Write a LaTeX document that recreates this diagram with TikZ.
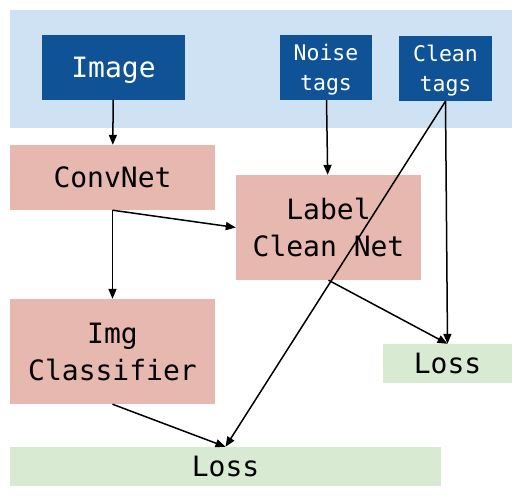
\documentclass[tikz,border=0pt]{standalone}
\usepackage{fontspec}
\setmonofont{DejaVu Sans Mono}
\usetikzlibrary{arrows.meta}
\definecolor{inbg}{HTML}{CFE2F3}
\definecolor{inbox}{HTML}{0F5396}
\definecolor{netbox}{HTML}{E6B8AF}
\definecolor{lossbox}{HTML}{D9EAD3}

\begin{document}
\begin{tikzpicture}[x=1pt, y=-1pt,
  input/.style={fill=inbox, text=white, font=\ttfamily\fontsize{21.5}{30}\selectfont, align=center, inner sep=0pt, text depth=0pt},
  net/.style={fill=netbox, font=\ttfamily\fontsize{28}{37}\selectfont, align=center, inner sep=0pt},
  loss/.style={fill=lossbox, font=\ttfamily\fontsize{28}{37}\selectfont, inner sep=0pt},
  flow/.style={-{Triangle[length=10pt, width=8pt]}, line width=1.5pt}]
\useasboundingbox (0,0) rectangle (529,496);
\fill[inbg] (10,10) rectangle (512,128);

\node[input, minimum width=143pt, minimum height=65pt, font=\ttfamily\fontsize{28}{37}\selectfont] (image) at (113.5,67.5) {Image};
\node[input, minimum width=92pt, minimum height=65pt] (noise) at (326,67.5) {Noise\\tags};
\node[input, minimum width=93pt, minimum height=65pt] (clean) at (445.5,68.5) {Clean\\tags};

\node[net, minimum width=205pt, minimum height=65pt] (convnet) at (112.5,177.5) {ConvNet};
\node[net, minimum width=185pt, minimum height=105pt] (cleannet) at (328.5,227.5) {Label\\Clean Net};
\node[net, minimum width=205pt, minimum height=105pt] (classifier) at (112.5,351.5) {Img\\Classifier};

\node[loss, minimum width=129pt, minimum height=39pt] (lossright) at (447.5,363.5) {Loss};
\node[loss, minimum width=431pt, minimum height=39pt] (lossbottom) at (225.5,466.5) {Loss};

\draw[flow] (image) -- (convnet);
\draw[flow] (noise) -- (cleannet);
\draw[flow] (convnet.south) -- (cleannet.west);
\draw[flow] (convnet.south) -- (classifier.north);
\draw[flow] (clean.south) -- (lossright.north);
\draw[flow] (clean.south) -- (lossbottom.north);
\draw[flow] (cleannet.south) -- (lossright.north);
\draw[flow] (classifier.south) -- (lossbottom.north);
\end{tikzpicture}
\end{document}
